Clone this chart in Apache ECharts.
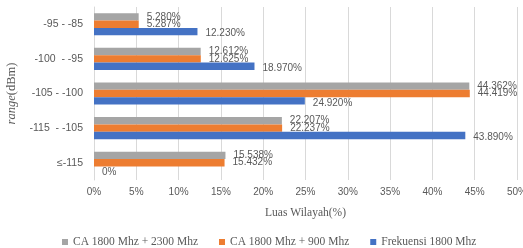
<!DOCTYPE html>
<html>
<head>
<meta charset="utf-8">
<script src="https://cdn.jsdelivr.net/npm/echarts@6/dist/echarts.min.js"></script>
<style>html,body{margin:0;padding:0;background:#fff}#chart{width:523px;height:248px}</style>
</head>
<body>
<div id="chart"></div>
<script>
// categories bottom -> top (ECharts draws first category at the bottom)
const ranges = ["≤-115", "-115  - -105", "-105 - -100", "-100  - -95", "-95 - -85"];
const freq1800 = [0, 43.890, 24.920, 18.970, 12.230];
const ca1800_900 = [15.432, 22.237, 44.419, 12.625, 5.287];
const ca1800_2300 = [15.538, 22.207, 44.362, 12.612, 5.280];
const xTicks = [0, 5, 10, 15, 20, 25, 30, 35, 40, 45, 50];

const serif = "Liberation Serif";
const sans = "Liberation Sans";

function pctLabel(p) {
  return p.value === 0 ? "0%" : p.value.toFixed(3) + "%";
}

function barSeries(name, data, color, offsetY) {
  return {
    name,
    type: "bar",
    data,
    barGap: "0%",
    barCategoryGap: "36%",
    itemStyle: { color },
    label: {
      show: true,
      position: "right",
      distance: 8,
      offset: [0, offsetY || 0],
      formatter: pctLabel,
      color: "#595959",
      fontFamily: sans,
      fontSize: 10,
    },
  };
}

const chart = echarts.init(document.getElementById("chart"));
chart.setOption({
  animation: false,
  backgroundColor: "#fff",
  grid: { left: 94, right: 6, top: 7, bottom: 68, containLabel: false, outerBoundsMode: "none" },
  legend: {
    data: ["CA 1800 Mhz + 2300 Mhz", "CA 1800 Mhz + 900 Mhz", "Frekuensi 1800 Mhz"],
    bottom: 0,
    left: 62,
    padding: 0,
    itemWidth: 6,
    itemHeight: 6,
    itemGap: 21,
    icon: "rect",
    textStyle: { fontFamily: serif, fontSize: 11.5, color: "#595959" },
  },
  xAxis: {
    type: "value",
    min: 0,
    max: 50,
    interval: 5,
    name: "Luas Wilayah(%)",
    nameLocation: "middle",
    nameGap: 27,
    nameTextStyle: { fontFamily: serif, fontSize: 11.5, color: "#595959" },
    axisLine: { show: false },
    axisTick: { show: false },
    axisLabel: {
      margin: 7,
      formatter: (v) => (xTicks.includes(v) ? v + "%" : ""),
      fontFamily: sans,
      fontSize: 10,
      color: "#595959",
    },
    splitLine: { lineStyle: { color: "#d9d9d9" } },
  },
  yAxis: {
    type: "category",
    data: ranges,
    name: "{i|range}(dBm)",
    nameLocation: "middle",
    nameGap: 72,
    nameRotate: 90,
    nameTextStyle: {
      fontFamily: serif, fontSize: 12.5, color: "#595959",
      rich: { i: { fontFamily: serif, fontSize: 12.5, color: "#595959", fontStyle: "italic" } },
    },
    axisLine: { show: true, lineStyle: { color: "#d9d9d9" } },
    axisTick: { show: false },
    axisLabel: { margin: 11, fontFamily: sans, fontSize: 10.5, color: "#595959" },
  },
  // first series is drawn at the top of each band
  series: [
    barSeries("CA 1800 Mhz + 2300 Mhz", ca1800_2300, "#a5a5a5"),
    barSeries("CA 1800 Mhz + 900 Mhz", ca1800_900, "#ed7d31"),
    barSeries("Frekuensi 1800 Mhz", freq1800, "#4472c4", 2),
  ],
});
</script>
</body>
</html>
